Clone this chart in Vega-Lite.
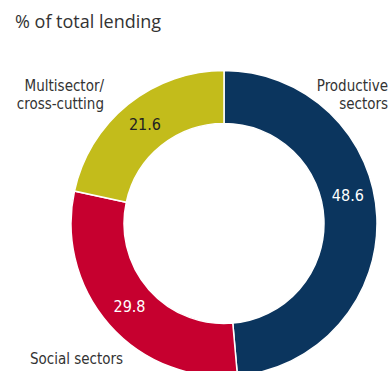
{
  "$schema": "https://vega.github.io/schema/vega-lite/v6.json",
  "width": 332,
  "height": 295,
  "autosize": "none",
  "padding": {"left": 58, "top": 76, "right": 0, "bottom": 0},
  "background": "white",
  "title": {
    "text": "% of total lending",
    "anchor": "start",
    "frame": "group",
    "orient": "top",
    "dx": -43,
    "offset": 22,
    "baseline": "alphabetic",
    "font": "Open Sans",
    "fontSize": 18,
    "fontWeight": "normal",
    "color": "#333333"
  },
  "config": {"view": {"stroke": null}, "text": {"lineBreak": "\n"}},
  "data": {
    "values": [
      {"sector": "Productive", "label": "Productive\nsectors", "value": 48.6, "order": 1},
      {"sector": "Social", "label": "Social sectors", "value": 29.8, "order": 2},
      {"sector": "Multisector", "label": "Multisector/\ncross-cutting", "value": 21.6, "order": 3}
    ]
  },
  "layer": [
    {
      "mark": {"type": "arc", "innerRadius": 100, "outerRadius": 153, "stroke": "white", "strokeWidth": 1.5},
      "encoding": {
        "theta": {"field": "value", "type": "quantitative", "stack": true},
        "order": {"field": "order", "type": "quantitative"},
        "color": {
          "field": "sector", "type": "nominal", "legend": null,
          "scale": {"domain": ["Productive", "Social", "Multisector"], "range": ["#0b355e", "#c6002f", "#c3bc1b"]}
        }
      }
    },
    {
      "mark": {"type": "text", "radius": 126, "fontSize": 16, "font": "Liberation Sans Narrow, DejaVu Sans Condensed, sans-serif", "align": "center", "baseline": "middle"},
      "encoding": {
        "theta": {"field": "value", "type": "quantitative", "stack": true},
        "order": {"field": "order", "type": "quantitative"},
        "text": {"condition": {"test": "datum.sector !== 'Productive'", "field": "value", "format": ".1f"}, "value": ""},
        "color": {"condition": {"test": "datum.sector === 'Multisector'", "value": "#222222"}, "value": "white"}
      }
    },
    {
      "mark": {"type": "text", "radius": 126, "dx": -2, "dy": -22, "fontSize": 16, "font": "Liberation Sans Narrow, DejaVu Sans Condensed, sans-serif", "align": "center", "baseline": "middle", "color": "white"},
      "encoding": {
        "theta": {"field": "value", "type": "quantitative", "stack": true},
        "order": {"field": "order", "type": "quantitative"},
        "text": {"condition": {"test": "datum.sector === 'Productive'", "field": "value", "format": ".1f"}, "value": ""}
      }
    },
    {
      "transform": [
        {"stack": "value", "groupby": [], "sort": [{"field": "order", "order": "ascending"}], "as": ["v0", "v1"]},
        {"filter": "datum.sector === 'Productive'"}
      ],
      "mark": {"type": "text", "radius": 129, "dx": 164, "dy": -9, "fontSize": 15, "lineHeight": 18, "font": "Liberation Sans Narrow, DejaVu Sans Condensed, sans-serif", "align": "right", "baseline": "middle", "color": "#333333"},
      "encoding": {
        "theta": {"field": "v0", "type": "quantitative", "stack": null},
        "text": {"field": "label"}
      }
    },
    {
      "transform": [
        {"stack": "value", "groupby": [], "sort": [{"field": "order", "order": "ascending"}], "as": ["v0", "v1"]},
        {"filter": "datum.sector === 'Multisector'"}
      ],
      "mark": {"type": "text", "radius": 129, "dx": -120, "dy": -9, "fontSize": 15, "lineHeight": 18, "font": "Liberation Sans Narrow, DejaVu Sans Condensed, sans-serif", "align": "right", "baseline": "middle", "color": "#333333"},
      "encoding": {
        "theta": {"field": "v1", "type": "quantitative", "stack": null},
        "text": {"field": "label"}
      }
    },
    {
      "transform": [
        {"stack": "value", "groupby": [], "sort": [{"field": "order", "order": "ascending"}], "as": ["v0", "v1"]},
        {"filter": "datum.sector === 'Social'"}
      ],
      "mark": {"type": "text", "radius": 136, "dx": -206, "dy": 0, "fontSize": 15, "lineHeight": 18, "font": "Liberation Sans Narrow, DejaVu Sans Condensed, sans-serif", "align": "left", "baseline": "middle", "color": "#333333"},
      "encoding": {
        "theta": {"field": "v0", "type": "quantitative", "stack": null},
        "text": {"field": "label"}
      }
    }
  ]
}
